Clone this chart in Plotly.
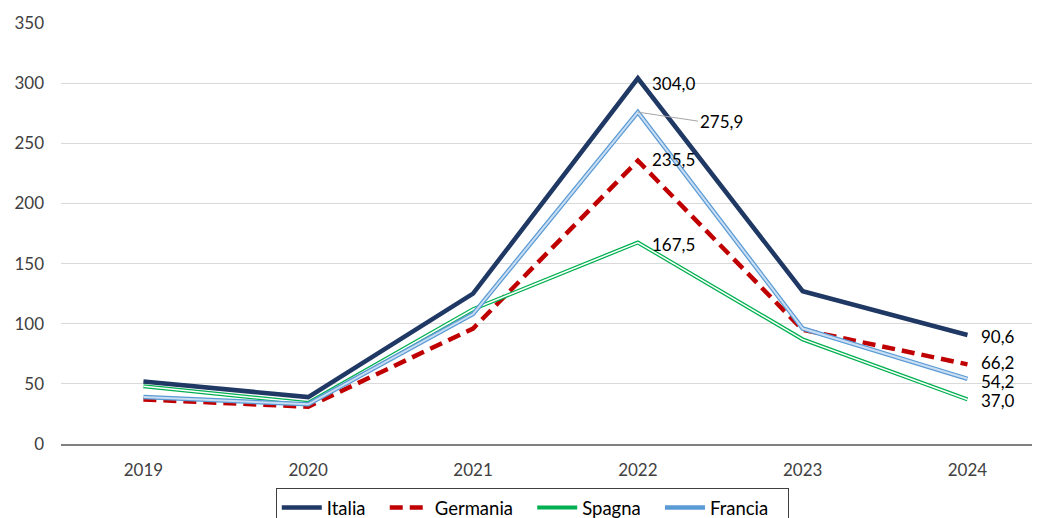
import plotly.graph_objects as go

years = ["2019", "2020", "2021", "2022", "2023", "2024"]
italia = [52.0, 39.0, 125.0, 304.0, 127.0, 90.6]
germania = [37.0, 31.0, 96.0, 235.5, 95.0, 66.2]
spagna = [48.0, 34.0, 112.0, 167.5, 87.0, 37.0]
francia = [39.0, 33.0, 108.0, 275.9, 96.0, 54.2]
y_ticks = [0, 50, 100, 150, 200, 250, 300, 350]

FONT = "Lato"
NB = "\u00a0\u00a0\u00a0"

def fmt(v):
    return f"{v:.1f}".replace(".", ",")

fig = go.Figure()
fig.add_trace(go.Scatter(x=years, y=italia, name="Italia" + NB, mode="lines",
                         line=dict(color="#1F3864", width=4.5)))
fig.add_trace(go.Scatter(x=years, y=germania, name="Germania" + NB, mode="lines",
                         line=dict(color="#C00000", width=4.5, dash="13px,7px")))
fig.add_trace(go.Scatter(x=years, y=spagna, name="Spagna" + NB, mode="lines",
                         line=dict(color="#00B050", width=4)))
fig.add_trace(go.Scatter(x=years, y=spagna, showlegend=False, mode="lines", hoverinfo="skip",
                         line=dict(color="white", width=1.5)))
fig.add_trace(go.Scatter(x=years, y=francia, name="Francia" + NB, mode="lines",
                         line=dict(color="#5B9BD5", width=4.5)))
fig.add_trace(go.Scatter(x=years, y=francia, showlegend=False, mode="lines", hoverinfo="skip",
                         line=dict(color="#C9DEF2", width=2)))

i22 = years.index("2022")
i24 = years.index("2024")
ann = []
for v, ys in ((italia[i22], -5), (germania[i22], 1), (spagna[i22], -2)):
    ann.append(dict(x=i22, y=v, text=fmt(v), showarrow=False, xanchor="left",
                    yanchor="middle", xshift=12, yshift=ys))
ann.append(dict(x=i22, y=francia[i22], text=fmt(francia[i22]), showarrow=True, arrowhead=0,
                arrowwidth=1, arrowcolor="#A6A6A6", ax=60, ay=9, xanchor="left",
                yanchor="middle"))
for v, ys in ((italia[i24], -1), (germania[i24], 2), (francia[i24], -3), (spagna[i24], -1)):
    ann.append(dict(x=i24, y=v, text=fmt(v), showarrow=False, xanchor="left",
                    yanchor="middle", xshift=12, yshift=ys))
for a in ann:
    a["xref"] = "x"
    a["yref"] = "y"
    a["font"] = dict(family=FONT, size=17, color="#000000")

fig.update_layout(
    width=1032, height=510,
    margin=dict(l=52.5, r=0, t=14, b=74, autoexpand=False),
    paper_bgcolor="white", plot_bgcolor="white",
    font=dict(family=FONT, size=17, color="#404040"),
    annotations=ann,
    xaxis=dict(type="category", range=[-0.5, 5.44], showgrid=False, showline=True,
               linecolor="#808080", linewidth=2, ticks="", ticklabelstandoff=10,
               tickfont=dict(size=17, color="#404040")),
    yaxis=dict(range=[0, 350.8], tickvals=y_ticks, showgrid=True, gridcolor="#D9D9D9",
               gridwidth=1, zeroline=False, showline=False, ticks="", ticklabelstandoff=16,
               tickfont=dict(size=17, color="#404040")),
    legend=dict(orientation="h", x=0.4814, xanchor="center", y=-0.104, yanchor="top",
                bordercolor="#404040", borderwidth=1, font=dict(size=18.5, color="#000000"),
                itemwidth=40, tracegroupgap=0),
    showlegend=True,
)

fig.write_html("out.html")
